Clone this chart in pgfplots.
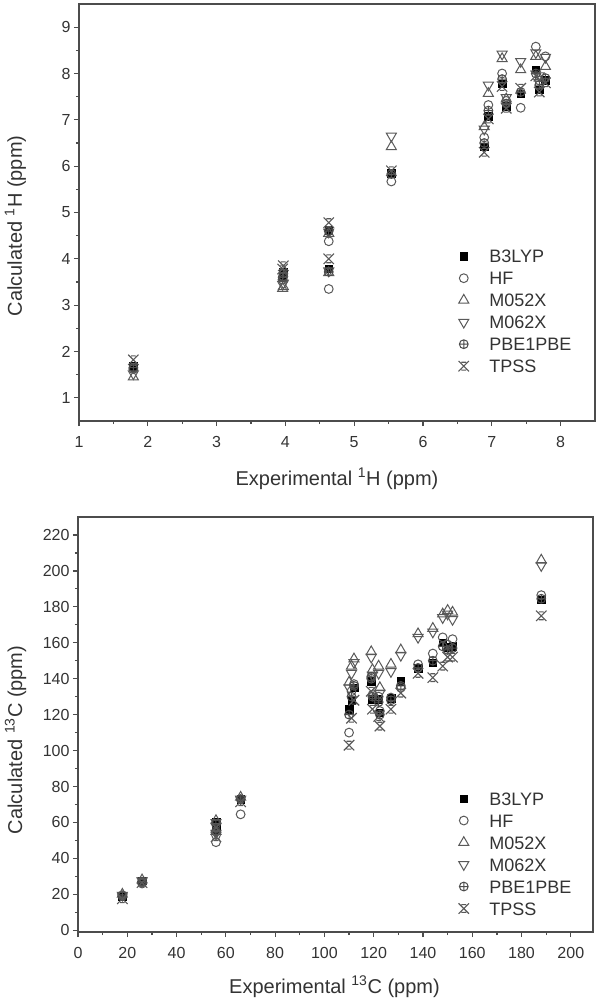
\documentclass[border=0pt]{standalone}
\usepackage{fontspec}
\setmainfont{Liberation Sans}
\usepackage{pgfplots}
\usepackage{pgfplotstable}
\pgfplotsset{compat=1.18}

% experimental vs calculated shifts, one column per method
\pgfplotstableread{
x     B3LYP HF   M052X M062X PBE  TPSS
1.79  1.68  1.62 1.45  1.52  1.65 1.82
3.97  3.72  3.62 3.40  3.48  3.68 3.85
3.96  3.62  3.55 3.36  3.45  3.60 3.78
4.63  4.62  4.38 4.55  4.58  4.60 4.78
4.63  3.79  3.35 3.70  3.74  3.72 4.00
5.54  5.85  5.67 6.42  6.65  5.83 5.90
6.89  6.42  6.62 6.85  6.80  6.50 6.30
6.95  7.08  7.32 7.57  7.75  7.20 7.02
7.15  7.78  8.00 8.32  8.42  7.88 7.72
7.21  7.30  7.41 7.45  7.48  7.35 7.25
7.42  7.56  7.26 8.08  8.26  7.60 7.68
7.64  8.08  8.58 8.37  8.45  8.00 7.95
7.69  7.65  7.85 7.90  7.95  7.75 7.60
7.78  7.86  8.37 8.15  8.35  7.90 7.80
}\hdata

\pgfplotstableread{
x     B3LYP HF    M052X M062X PBE   TPSS
18    19.0  19.5  20.0  19.5  19.0  17.5
26    27.5  26.0  28.0  27.5  27.0  26.5
56    60.5  53.0  61.0  60.0  59.0  57.0
56    56.0  49.0  55.0  54.0  55.0  52.0
66    73.0  64.5  74.0  73.0  73.0  71.5
110   123.0 110.0 138.0 135.0 120.0 103.0
111   128.0 133.0 147.0 143.0 130.0 118.0
112   135.0 137.0 151.0 149.0 136.0 128.0
119   138.7 140.0 155.0 152.0 141.0 133.0
119.5 128.5 131.0 145.0 142.0 130.0 123.0
122   128.5 130.0 147.0 143.0 127.0 119.0
122.5 121.0 122.0 135.0 132.0 120.0 113.6
127   129.0 129.5 148.0 144.0 128.0 123.0
131   138.7 135.0 156.0 153.0 136.0 132.0
138   146.0 148.0 165.0 163.0 146.0 143.0
144   149.0 154.0 168.0 166.0 150.0 140.6
148   160.0 163.0 176.0 174.0 158.0 147.0
150   157.5 159.0 178.0 176.0 156.0 152.0
152   158.0 162.0 177.0 173.0 157.0 152.0
188   184.0 186.5 206.0 203.0 184.5 175.0
}\cdata

% X with short caps, close to the TPSS symbol
\pgfdeclareplotmark{tpss}{%
  \pgfpathmoveto{\pgfqpoint{-\pgfplotmarksize}{-\pgfplotmarksize}}%
  \pgfpathlineto{\pgfqpoint{\pgfplotmarksize}{\pgfplotmarksize}}%
  \pgfpathmoveto{\pgfqpoint{-\pgfplotmarksize}{\pgfplotmarksize}}%
  \pgfpathlineto{\pgfqpoint{\pgfplotmarksize}{-\pgfplotmarksize}}%
  \pgfpathmoveto{\pgfqpoint{-0.45\pgfplotmarksize}{0.75\pgfplotmarksize}}%
  \pgfpathlineto{\pgfqpoint{0.45\pgfplotmarksize}{0.75\pgfplotmarksize}}%
  \pgfpathmoveto{\pgfqpoint{-0.45\pgfplotmarksize}{-0.75\pgfplotmarksize}}%
  \pgfpathlineto{\pgfqpoint{0.45\pgfplotmarksize}{-0.75\pgfplotmarksize}}%
  \pgfusepathqstroke}

\pgfplotsset{
  nmr/.style={
    scale only axis,
    anchor=north west,
    axis line style={black!70, line width=1.5pt},
    tick align=outside,
    xtick pos=left, ytick pos=left,
    minor tick num=1,
    major tick length=5pt, minor tick length=3pt,
    every tick/.style={black!70, line width=1.2pt},
    tick label style={font=\fontsize{16}{16}\selectfont, text=black!80},
    xticklabel style={yshift=-7pt},
    /pgf/number format/assume math mode=true,
    label style={font=\fontsize{20}{20}\selectfont, text=black!80},
    legend cell align=left,
    legend style={draw=none, fill=none, inner sep=0pt, row sep=9pt, column sep=19pt,
      nodes={inner sep=0pt, text height=13pt, text depth=0pt,
        font=\fontsize{18}{18}\selectfont, text=black!80}},
    legend image code/.code={\path (-6pt,0pt) (6pt,0pt); \draw[##1] plot coordinates {(0pt,0pt)};},
  },
  mB/.style={only marks, mark=square*, mark size=3.8pt, draw=black, fill=black},
  mHF/.style={only marks, mark=o, mark size=4.4pt, draw=black!65, line width=1pt},
  mM5/.style={only marks, mark=triangle, mark size=5.8pt, draw=black!65, line width=1pt},
  mM6/.style={only marks, mark=triangle, mark size=5.8pt, mark options={rotate=180}, draw=black!65, line width=1pt},
  mP/.style={only marks, mark=oplus, mark size=4.4pt, draw=black!70, line width=1pt},
  mT/.style={only marks, mark=tpss, mark size=5.2pt, draw=black!65, line width=1.1pt},
}

\begin{document}
\begin{tikzpicture}
\useasboundingbox (0,0) rectangle (600pt,-1001pt);

\begin{axis}[nmr, at={(79pt,-4pt)}, width=516pt, height=417pt,
  xmin=1, xmax=8.5, ymin=0.5, ymax=9.5,
  xtick={1,...,8}, ytick={1,...,9},
  xlabel={Experimental \textsuperscript{1}H (ppm)},
  ylabel={Calculated \textsuperscript{1}H (ppm)},
  xlabel style={at={(axis description cs:0.5,0)}, anchor=base, yshift=-64pt},
  ylabel style={at={(axis description cs:-0.1231,0.468)}, anchor=center},
  legend style={at={(axis description cs:0.7326,0.4113)}, anchor=north west},
]
\addplot[mB] table[x=x, y=B3LYP] {\hdata};
\addplot[mHF] table[x=x, y=HF] {\hdata};
\addplot[mM5] table[x=x, y=M052X] {\hdata};
\addplot[mM6] table[x=x, y=M062X] {\hdata};
\addplot[mP] table[x=x, y=PBE] {\hdata};
\addplot[mT] table[x=x, y=TPSS] {\hdata};
\legend{B3LYP, HF, M052X, M062X, PBE1PBE, TPSS}
\end{axis}

\begin{axis}[nmr, at={(78pt,-517pt)}, width=515pt, height=415pt,
  xmin=0, xmax=209, ymin=-1, ymax=230,
  xtick={0,20,...,200}, ytick={0,20,...,220},
  xlabel={Experimental \textsuperscript{13}C (ppm)},
  ylabel={Calculated \textsuperscript{13}C (ppm)},
  xlabel style={at={(axis description cs:0.498,0)}, anchor=base, yshift=-61pt},
  ylabel style={at={(axis description cs:-0.1214,0.463)}, anchor=center},
  legend style={at={(axis description cs:0.736,0.3378)}, anchor=north west},
]
\addplot[mB] table[x=x, y=B3LYP] {\cdata};
\addplot[mHF] table[x=x, y=HF] {\cdata};
\addplot[mM5] table[x=x, y=M052X] {\cdata};
\addplot[mM6] table[x=x, y=M062X] {\cdata};
\addplot[mP] table[x=x, y=PBE] {\cdata};
\addplot[mT] table[x=x, y=TPSS] {\cdata};
\legend{B3LYP, HF, M052X, M062X, PBE1PBE, TPSS}
\end{axis}
\end{tikzpicture}
\end{document}
